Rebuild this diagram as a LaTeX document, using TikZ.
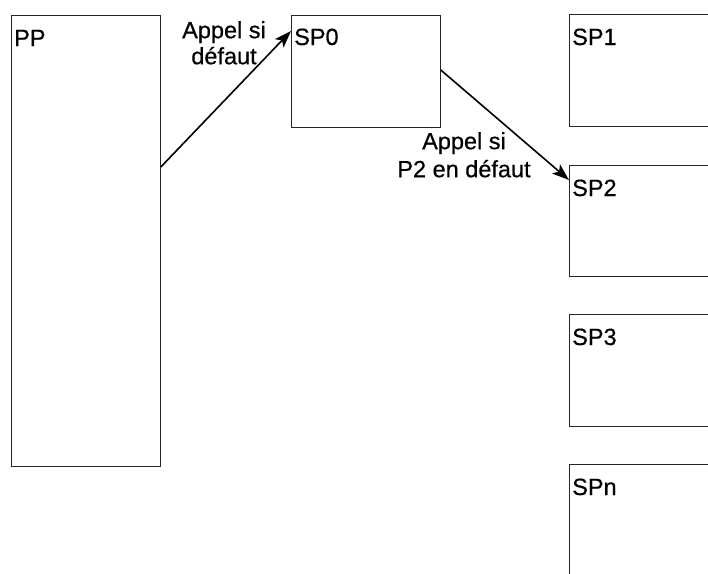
\documentclass[tikz,border=0pt]{standalone}
\usepackage{fontspec}
\setmainfont{Liberation Sans}[FakeBold=0.5]
\usetikzlibrary{arrows.meta,calc}
\begin{document}
\begin{tikzpicture}[x=1pt,y=-1pt,
 box/.style={draw=black!85, line width=0.8pt, minimum width=149pt, inner sep=0pt, anchor=north west},
 boxtitle/.style={anchor=base west, inner sep=0pt, font=\fontsize{23.5}{26}\selectfont},
 lbl/.style={anchor=north, inner sep=0pt, align=center, font=\fontsize{23.5}{26}\selectfont},
 call/.style={line width=1.6pt, -{Stealth[length=17pt,width=12pt,inset=4pt]}}]
\useasboundingbox (0,0) rectangle (708,573);
\clip (0,0) rectangle (708,573);
\node[box, minimum height=451pt] (PP) at (11,15) {};
\node[box, minimum height=112pt] (SP0) at (291,15) {};
\node[box, minimum height=112pt] (SP1) at (569,14) {};
\node[box, minimum height=111pt] (SP2) at (569,165) {};
\node[box, minimum height=112pt] (SP3) at (569,314) {};
\node[box, minimum height=112pt] (SPn) at (569,464) {};
\node[boxtitle] (tPP) at ($(PP.north west)+(3,31)$) {PP};
\node[boxtitle] (tSP0) at ($(SP0.north west)+(3,30)$) {SP0};
\node[boxtitle] (tSP1) at ($(SP1.north west)+(3,31)$) {SP1};
\node[boxtitle] (tSP2) at ($(SP2.north west)+(3,31)$) {SP2};
\node[boxtitle] (tSP3) at ($(SP3.north west)+(3,31)$) {SP3};
\node[boxtitle] (tSPn) at ($(SPn.north west)+(3,31)$) {SPn};
\coordinate (a1s) at ($(PP.north east)+(0,152)$);
\coordinate (a1e) at ($(SP0.north west)+(0,16)$);
\coordinate (a2s) at ($(SP0.north east)+(0,55)$);
\coordinate (a2e) at ($(SP2.north west)+(0,15)$);
\draw[call] (a1s) -- (a1e);
\draw[call] (a2s) -- (a2e);
\node[lbl] (l1) at (224,21) {Appel si\\défaut};
\node[lbl, font=\fontsize{23.5}{28}\selectfont] (l2) at (464,132) {Appel si\\P2 en défaut};
\end{tikzpicture}
\end{document}
